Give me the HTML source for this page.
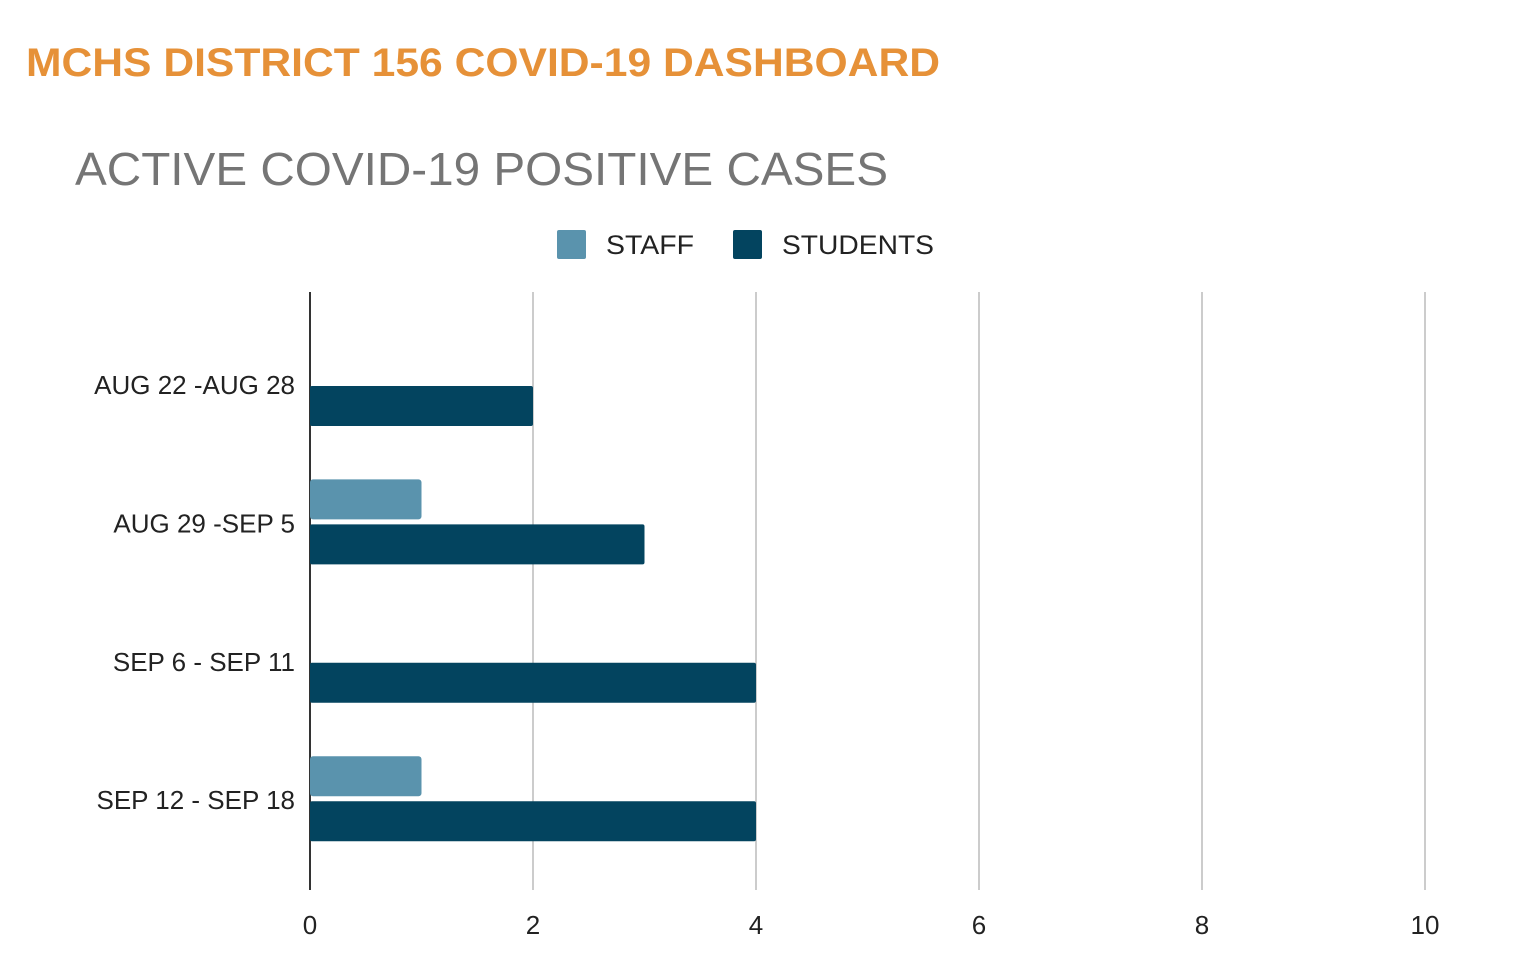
<!DOCTYPE html>
<html><head><meta charset="utf-8"><style>
body{margin:0;width:1536px;height:972px;background:#fff;font-family:"Liberation Sans",sans-serif;overflow:hidden}
</style></head><body>
<svg width="1536" height="972" xmlns="http://www.w3.org/2000/svg" id="chart">
<text x="26" y="76" font-size="40" font-weight="bold" fill="#e69138" textLength="914" lengthAdjust="spacingAndGlyphs">MCHS DISTRICT 156 COVID-19 DASHBOARD</text>
<text x="75" y="185" font-size="46" fill="#757575" textLength="813" lengthAdjust="spacingAndGlyphs">ACTIVE COVID-19 POSITIVE CASES</text>
<g>
<rect x="557" y="230" width="29" height="29" rx="2" fill="#5a93ad"/>
<text x="606" y="254" font-size="27" fill="#222" textLength="88" lengthAdjust="spacingAndGlyphs">STAFF</text>
<rect x="733" y="230" width="29" height="29" rx="2" fill="#03445f"/>
<text x="782" y="254" font-size="27" fill="#222" textLength="152" lengthAdjust="spacingAndGlyphs">STUDENTS</text>
</g>
<g id="grid"></g><g id="bars"></g><g id="labels"></g>
</svg>
<script>
const categories=["AUG 22 -AUG 28","AUG 29 -SEP 5","SEP 6 - SEP 11","SEP 12 - SEP 18"];
const staff=[0,1,0,1];
const students=[2,3,4,4];
const ticks=[0,2,4,6,8,10];
const NS="http://www.w3.org/2000/svg";
const x0=310,pxPer=111.5,yTop=292,yBot=890,firstTop=341,pitch=138.4,bh=40;
const xs=v=>x0+v*pxPer;
const gridG=document.getElementById('grid'),barsG=document.getElementById('bars'),labelsG=document.getElementById('labels');
function mk(tag,attrs,parent){const e=document.createElementNS(NS,tag);for(const k in attrs)e.setAttribute(k,attrs[k]);parent.appendChild(e);return e;}
ticks.forEach(t=>{
  if(t>0){const l=mk('line',{x1:xs(t),x2:xs(t),y1:yTop,y2:yBot,stroke:'#cccccc','stroke-width':2},gridG);
  
  }
  const tx=mk('text',{x:xs(t),y:934,'font-size':26,fill:'#222','text-anchor':'middle'},labelsG);
  tx.textContent=t;
  
  
});
categories.forEach((c,i)=>{
  const yT=firstTop+pitch*i;
  if(staff[i]>0){const r=mk('rect',{x:x0,y:yT,width:xs(staff[i])-x0,height:bh,rx:3,fill:'#5a93ad'},barsG);
  
  }
  if(students[i]>0){const r=mk('rect',{x:x0,y:yT+45,width:xs(students[i])-x0,height:bh,rx:2,fill:'#03445f'},barsG);
  
  }
  const t=mk('text',{x:295,y:yT+53,'font-size':26,fill:'#222','text-anchor':'end'},labelsG);
  t.textContent=c;
  
  
});
const ax=mk('line',{x1:x0,x2:x0,y1:yTop,y2:yBot,stroke:'#333','stroke-width':2},gridG);


</script>
</body></html>
